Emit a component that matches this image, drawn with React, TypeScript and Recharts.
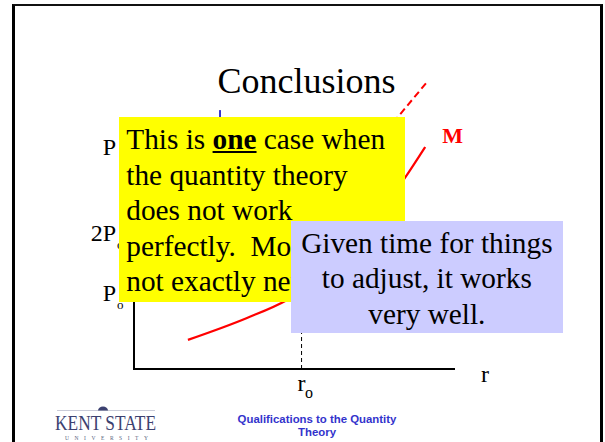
import React from 'react';
import { LineChart, Line, XAxis, YAxis, ReferenceLine, ReferenceDot } from 'recharts';

const SERIF = '"Liberation Serif", "Times New Roman", Times, serif';
const SANS = '"Liberation Sans", Arial, Helvetica, sans-serif';

// Money curve M (solid part) in axis units (0-100 on both axes)
const mCurveX = [16.8, 35.2, 47.7, 65.7, 84.4, 90.7];
const mCurveY = [9.7, 17.0, 23.0, 37.0, 63.7, 74.0];

// Shifted money curve (dashed part)
const mShiftX = [73.5, 82.2, 91.0];
const mShiftY = [69.7, 84.0, 95.3];

// Price-level ticks on the vertical axis
const yTickValues = [74.2, 45.5, 25.5];
const yTickLabels = ['P', '2P', 'P'];
const yTickSubs = ['', 'o', 'o'];

// Interest-rate tick on the horizontal axis
const xTickValues = [52.2];
const xTickLabels = ['r'];
const xTickSubs = ['o'];

// Guide at r0 and the small blue marker near the top of the price axis
const r0GuideY = [0, 40];
const blueMarkX = 26.8;
const blueMarkY = [60, 86.3];

// Position of the "M" curve name
const mNameX = 96;
const mNameY = 75.3;

const curveData = mCurveX.map((x, i) => ({ x, y: mCurveY[i] }));
const shiftData = mShiftX.map((x, i) => ({ x, y: mShiftY[i] }));

const YTick = (props: any) => {
  const i = yTickValues.indexOf(props.payload.value);
  const ax = props.x - 18;
  return (
    <g>
      <text x={ax} y={props.y + 8.5} textAnchor="end" fontFamily={SERIF} fontSize={24} fill="#000">
        {yTickLabels[i]}
      </text>
      {yTickSubs[i] ? (
        <text x={ax + 1} y={props.y + 16} textAnchor="start" fontFamily={SERIF} fontSize={13} fill="#000">
          {yTickSubs[i]}
        </text>
      ) : null}
    </g>
  );
};

const XTick = (props: any) => {
  const i = xTickValues.indexOf(props.payload.value);
  return (
    <g>
      <text x={props.x - 4} y={props.y + 22} textAnchor="start" fontFamily={SERIF} fontSize={24} fill="#000">
        {xTickLabels[i]}
      </text>
      <text x={props.x + 3.5} y={props.y + 29} textAnchor="start" fontFamily={SERIF} fontSize={16} fill="#000">
        {xTickSubs[i]}
      </text>
    </g>
  );
};

const RLabel = (props: any) => {
  const vb = props.viewBox || {};
  return (
    <text x={vb.x + vb.width + 26} y={vb.y + 13} fontFamily={SERIF} fontSize={24} fill="#000">
      r
    </text>
  );
};

const MLabel = (props: any) => {
  const vb = props.viewBox || {};
  return (
    <text x={vb.x + vb.width / 2} y={vb.y + vb.height / 2} fontFamily={SERIF} fontWeight="bold" fontSize={22} fill="#FF0000">
      M
    </text>
  );
};

const lineStyle: React.CSSProperties = { height: 35.5, lineHeight: '35.5px', whiteSpace: 'pre' };

export default function App() {
  return (
    <div style={{ position: 'absolute', left: 0, top: 0, width: 605, height: 442, background: '#fff', overflow: 'hidden' }}>
      {/* slide frame */}
      <div
        style={{
          position: 'absolute',
          left: 12,
          top: 4,
          width: 585,
          height: 460,
          borderLeft: '3px solid #000',
          borderRight: '3px solid #000',
          borderTop: '2px solid #111',
        }}
      />

      <div style={{ position: 'absolute', left: 0, top: 0 }}>
        <LineChart width={605} height={442} margin={{ top: 69, right: 150, bottom: 0, left: 0 }}>
          <XAxis
            type="number"
            dataKey="x"
            domain={[0, 100]}
            ticks={xTickValues}
            interval={0}
            height={73}
            axisLine={{ stroke: '#000', strokeWidth: 2 }}
            tickLine={false}
            tickSize={0}
            tickMargin={0}
            tick={<XTick />}
            label={<RLabel />}
          />
          <YAxis
            type="number"
            dataKey="y"
            domain={[0, 100]}
            ticks={yTickValues}
            interval={0}
            width={134}
            axisLine={false}
            tickLine={false}
            tickSize={0}
            tickMargin={0}
            tick={<YTick />}
          />
          <ReferenceLine
            segment={[{ x: 0, y: -0.35 }, { x: 0, y: 70 }]}
            stroke="#000"
            strokeWidth={2}
            ifOverflow="visible"
          />
          <ReferenceLine
            segment={[{ x: xTickValues[0], y: r0GuideY[0] }, { x: xTickValues[0], y: r0GuideY[1] }]}
            stroke="#000"
            strokeWidth={1}
            strokeDasharray="4 3"
            ifOverflow="visible"
          />
          <ReferenceLine
            segment={[{ x: blueMarkX, y: blueMarkY[0] }, { x: blueMarkX, y: blueMarkY[1] }]}
            stroke="#3333CC"
            strokeWidth={2}
            ifOverflow="visible"
          />
          <Line
            data={curveData}
            dataKey="y"
            type="monotone"
            stroke="#FF0000"
            strokeWidth={2.2}
            dot={false}
            activeDot={false}
            isAnimationActive={false}
          />
          <Line
            data={shiftData}
            dataKey="y"
            type="linear"
            stroke="#FF0000"
            strokeWidth={2}
            strokeDasharray="7 4"
            dot={false}
            activeDot={false}
            isAnimationActive={false}
          />
          <ReferenceDot x={mNameX} y={mNameY} r={1} fill="none" stroke="none" ifOverflow="visible" label={<MLabel />} />
        </LineChart>
      </div>

      {/* title */}
      <div
        style={{
          position: 'absolute',
          left: 0,
          width: 613,
          top: 62.9,
          textAlign: 'center',
          fontFamily: SERIF,
          fontSize: 36,
          lineHeight: '36px',
          color: '#000',
        }}
      >
        Conclusions
      </div>

      {/* yellow note */}
      <div
        style={{
          position: 'absolute',
          left: 119.3,
          top: 117.3,
          width: 285.7,
          height: 184.4,
          background: '#FFFF00',
          boxSizing: 'border-box',
          paddingLeft: 7,
          paddingTop: 5.1,
          fontFamily: SERIF,
          fontSize: 29.3,
          color: '#000',
          overflow: 'hidden',
        }}
      >
        <div style={lineStyle}>
          This is <b style={{ textDecoration: 'underline' }}>one</b> case when
        </div>
        <div style={lineStyle}>the quantity theory</div>
        <div style={lineStyle}>does not work</div>
        <div style={lineStyle}>perfectly.  Money is</div>
        <div style={lineStyle}>not exactly neutral.</div>
      </div>

      {/* blue note */}
      <div
        style={{
          position: 'absolute',
          left: 291,
          top: 221,
          width: 271.7,
          height: 112.3,
          background: '#CCCCFF',
          boxSizing: 'border-box',
          paddingTop: 4.7,
          textAlign: 'center',
          fontFamily: SERIF,
          fontSize: 29.3,
          color: '#000',
        }}
      >
        <div style={lineStyle}>Given time for things</div>
        <div style={lineStyle}>to adjust, it works</div>
        <div style={lineStyle}>very well.</div>
      </div>

      {/* university logo */}
      <svg style={{ position: 'absolute', left: 0, top: 400 }} width={200} height={42}>
        <line x1={57} y1={10.5} x2={155} y2={10.5} stroke="#c9cbd8" strokeWidth={1} />
        <path d="M98 10.5 A5 4 0 0 1 108 10.5 Z" fill="#3c4170" />
        <text
          x={55}
          y={30}
          textLength={101}
          lengthAdjust="spacingAndGlyphs"
          fontFamily={SERIF}
          fontSize={21}
          fill="#3c4170"
        >
          KENT STATE
        </text>
        <text
          x={65}
          y={39.5}
          textLength={83}
          lengthAdjust="spacing"
          fontFamily={SERIF}
          fontSize={5.5}
          fill="#5a5f80"
        >
          UNIVERSITY
        </text>
      </svg>

      {/* footer caption */}
      <div
        style={{
          position: 'absolute',
          left: 216,
          width: 202,
          top: 413,
          textAlign: 'center',
          fontFamily: SANS,
          fontWeight: 'bold',
          fontSize: 11.4,
          lineHeight: '13px',
          color: '#3333CC',
        }}
      >
        Qualifications to the Quantity
        <br />
        Theory
      </div>
    </div>
  );
}
